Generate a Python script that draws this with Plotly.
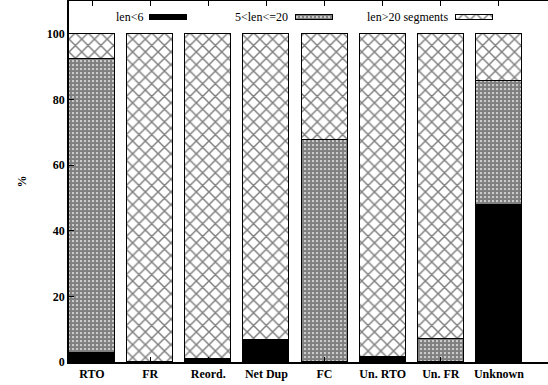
import plotly.graph_objects as go

# Share of each event type, split by segment-length class (percent)
categories = ["RTO", "FR", "Reord.", "Net Dup", "FC", "Un. RTO", "Un. FR", "Unknown"]
short_len = [2.8, 0.0, 0.5, 6.3, 0.0, 1.5, 0.0, 47.9]      # len<6
mid_len = [89.4, 0.0, 0.3, 0.5, 67.6, 0.0, 7.0, 37.7]       # 5<len<=20
long_len = [7.8, 100.0, 99.2, 93.2, 32.4, 98.5, 93.0, 14.4]  # len>20 segments
series_names = ["len<6", "5<len<=20", "len>20 segments"]

SERIF = "Liberation Serif"

styles = [
    dict(color="black"),
    dict(color="white", pattern=dict(shape=".", size=4, solidity=0.8,
                                     fgcolor="black", bgcolor="white")),
    dict(color="white", pattern=dict(shape="x", size=9, solidity=0.3,
                                     fgcolor="black", bgcolor="white")),
]

fig = go.Figure()
x_idx = list(range(len(categories)))
for name, vals, st in zip(series_names, [short_len, mid_len, long_len], styles):
    fig.add_trace(go.Bar(
        x=x_idx, y=vals, name=name, width=0.79,
        marker=dict(line=dict(color="black", width=1), **st),
        showlegend=False,
    ))

# Key: label text followed by a pattern swatch, drawn on a pixel-scaled overlay axis
key_text_right = [145, 290, 450]
key_swatch_left = [150, 296, 456]
key_swatch_len = 37
key_y = 17
for name, tx, sx, st in zip(series_names, key_text_right, key_swatch_left, styles):
    fig.add_trace(go.Bar(
        orientation="h", y=[key_y], x=[key_swatch_len], base=[sx], width=5,
        marker=dict(line=dict(color="black", width=1), **st),
        xaxis="x2", yaxis="y2", showlegend=False, hoverinfo="skip",
    ))
    fig.add_annotation(x=tx, y=key_y, xref="x2", yref="y2", text=name,
                       showarrow=False, xanchor="right", yanchor="middle",
                       font=dict(family=SERIF, size=12, color="black"))

fig.update_layout(
    width=548, height=385,
    margin=dict(l=69, r=0, t=1, b=23),
    paper_bgcolor="white", plot_bgcolor="white",
    font=dict(family=SERIF, size=12, color="black"),
    barmode="stack", bargap=0,
    showlegend=False,
    xaxis=dict(
        range=[-0.396, 7.844], tickmode="array", tickvals=x_idx,
        ticktext=["<b>%s</b>" % c for c in categories],
        ticks="inside", ticklen=5, tickwidth=1, tickcolor="black",
        showline=True, linecolor="black", linewidth=1.5, mirror="ticks",
        showgrid=False, zeroline=False,
        tickfont=dict(family=SERIF, size=12, color="black"),
    ),
    yaxis=dict(
        range=[0, 110], tickvals=[0, 20, 40, 60, 80, 100],
        ticktext=["<b>%d</b>" % v for v in [0, 20, 40, 60, 80, 100]],
        ticks="inside", ticklen=5, tickwidth=1, tickcolor="black",
        showline=True, linecolor="black", linewidth=1.5,
        showgrid=False, zeroline=False,
        tickfont=dict(family=SERIF, size=12, color="black"),
        title=dict(text="<b>%</b>", standoff=18,
                   font=dict(family=SERIF, size=12, color="black")),
    ),
    xaxis2=dict(range=[69, 548], overlaying="x", anchor="y2", visible=False,
                fixedrange=True),
    yaxis2=dict(range=[362, 1], overlaying="y", anchor="x2", visible=False,
                fixedrange=True),
)

fig.write_html("out.html")
